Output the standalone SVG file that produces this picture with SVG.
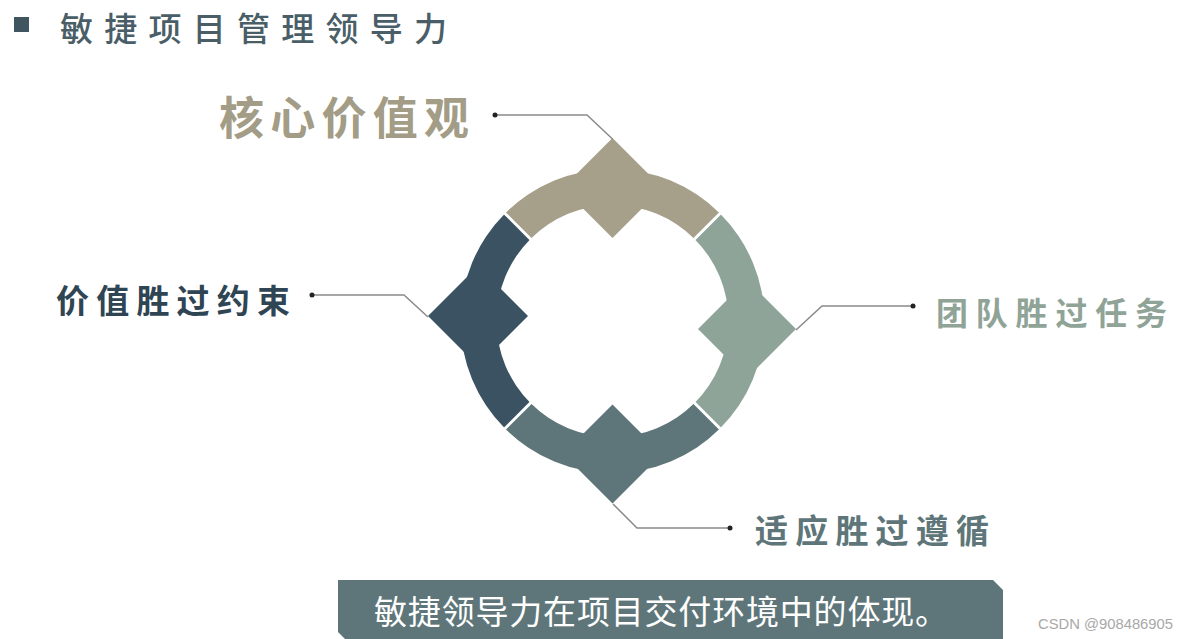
<svg xmlns="http://www.w3.org/2000/svg" width="1189" height="639" viewBox="0 0 1189 639">
  <style>
    .cjk { font-family: "Noto Sans CJK SC", "Noto Sans", sans-serif; }
    .lbl { font-weight: bold; }
    .conn { fill: none; stroke: #8a8a8a; stroke-width: 1.5; }
    .dot { fill: #222; }
    .gap { stroke: #ffffff; stroke-width: 3; }
  </style>
  <rect width="1189" height="639" fill="#ffffff"/>

  <g id="title">
    <rect x="14" y="17" width="15" height="15" fill="#3f5661"/>
    <text class="cjk" x="60" y="41" font-size="33" font-weight="500" fill="#4a5e68" textLength="387" lengthAdjust="spacing">敏捷项目管理领导力</text>
  </g>

  <g id="ring">
    <g id="seg-top" fill="#a69f89">
      <path d="M505.02,213.52 A152,152 0 0 1 719.98,213.52 L694.52,238.98 A116,116 0 0 0 530.48,238.98 Z"/>
      <polygon points="612.5,138 662.5,188 612.5,238 562.5,188"/>
    </g>
    <g id="seg-right" fill="#8fa498">
      <path d="M719.98,213.52 A152,152 0 0 1 719.98,428.48 L694.52,403.02 A116,116 0 0 0 694.52,238.98 Z"/>
      <polygon points="796,329 747,378 698,329 747,280"/>
    </g>
    <g id="seg-bottom" fill="#5e7679">
      <path d="M719.98,428.48 A152,152 0 0 1 505.02,428.48 L530.48,403.02 A116,116 0 0 0 694.52,403.02 Z"/>
      <polygon points="612.5,503.5 662,454 612.5,404.5 563,454"/>
    </g>
    <g id="seg-left" fill="#3a5261">
      <path d="M505.02,428.48 A152,152 0 0 1 505.02,213.52 L530.48,238.98 A116,116 0 0 0 530.48,403.02 Z"/>
      <polygon points="428,316 478,266 528,316 478,366"/>
    </g>
    <g id="gaps">
      <line class="gap" x1="533" y1="241.5" x2="502" y2="210.5"/>
      <line class="gap" x1="692" y1="241.5" x2="723" y2="210.5"/>
      <line class="gap" x1="692" y1="400.5" x2="723" y2="431.5"/>
      <line class="gap" x1="533" y1="400.5" x2="502" y2="431.5"/>
    </g>
  </g>

  <g id="connectors">
    <polyline class="conn" points="495,115 587,115 612.5,139"/>
    <circle class="dot" cx="495" cy="115" r="2.5"/>
    <polyline class="conn" points="312,295 404,295 428,317"/>
    <circle class="dot" cx="312" cy="295" r="2.5"/>
    <polyline class="conn" points="913,306 822,306 796,330"/>
    <circle class="dot" cx="913" cy="306" r="2.5"/>
    <polyline class="conn" points="730,528 637,528 613,504"/>
    <circle class="dot" cx="730" cy="528" r="2.5"/>
  </g>

  <g id="label-core">
    <text class="cjk lbl" x="219" y="135" font-size="45" fill="#a39c86" textLength="250" lengthAdjust="spacing">核心价值观</text>
  </g>
  <g id="label-value">
    <text class="cjk lbl" x="56" y="313" font-size="33" fill="#2f4553" textLength="234" lengthAdjust="spacing">价值胜过约束</text>
  </g>
  <g id="label-team">
    <text class="cjk lbl" x="936" y="325" font-size="32" fill="#8fa397" textLength="231" lengthAdjust="spacing">团队胜过任务</text>
  </g>
  <g id="label-adapt">
    <text class="cjk lbl" x="755" y="543" font-size="33" fill="#5e7679" textLength="234" lengthAdjust="spacing">适应胜过遵循</text>
  </g>

  <g id="caption">
    <path d="M338,580 L993,580 L1003,590 L1003,639 L345,639 L338,632 Z" fill="#5e7679"/>
    <text class="cjk" x="374" y="624" font-size="33" fill="#ffffff" textLength="574" lengthAdjust="spacing">敏捷领导力在项目交付环境中的体现。</text>
  </g>

  <text x="1038" y="629" font-family="'Liberation Sans', sans-serif" font-size="14" fill="#a8a8a8" textLength="135" lengthAdjust="spacingAndGlyphs">CSDN @908486905</text>
</svg>
